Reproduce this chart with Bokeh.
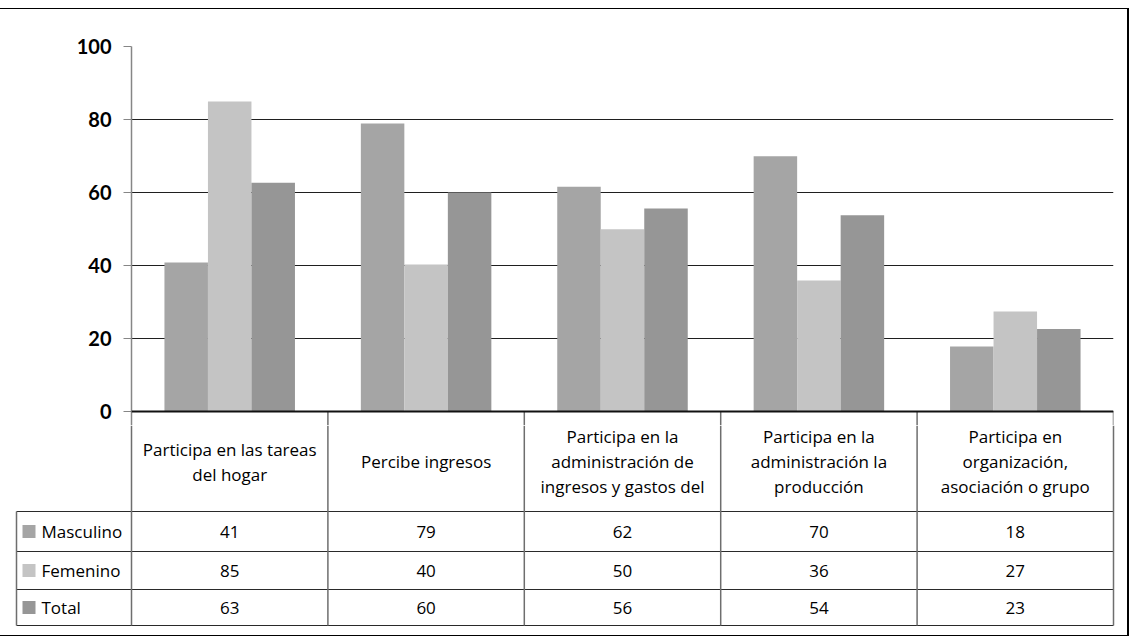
from bokeh.plotting import figure
from bokeh.layouts import column
from bokeh.models import Range1d, FixedTicker, ColumnDataSource, Span
from bokeh.core.properties import value
from bokeh.embed import file_html
from bokeh.resources import INLINE

# ---------------- data ----------------
categories = [
    "Participa en las tareas del hogar",
    "Percibe ingresos",
    "Participa en la administración de ingresos y gastos del hogar",
    "Participa en la administración la producción",
    "Participa en organización, asociación o grupo",
]
header_lines = [
    ["Participa en las tareas", "del hogar"],
    ["Percibe ingresos"],
    ["Participa en la", "administración de", "ingresos y gastos del"],
    ["Participa en la", "administración la", "producción"],
    ["Participa en", "organización,", "asociación o grupo"],
]
series = ["Masculino", "Femenino", "Total"]
masculino = [40.8, 78.9, 61.6, 69.9, 17.8]
femenino = [84.9, 40.3, 49.9, 35.9, 27.4]
total = [62.7, 60.0, 55.6, 53.8, 22.6]
y_ticks = [0, 20, 40, 60, 80, 100]

# ---------------- style ----------------
colors = ["#a5a5a5", "#c4c4c4", "#969696"]
FONT = "Open Sans"
TICK_FONT = "Lato"
TXT_SIZE = "17px"
W = 1127
TOP_H = 416
BOT_H = 210
LEFT = 131
RIGHT = 14
TOP_M = 37
N = len(categories)
CAT_PX = (W - LEFT - RIGHT) / N
PX_PER_UNIT = 3.65
Y_MIN = -(TOP_H - TOP_M) / PX_PER_UNIT + 100
BAR_W = 0.2215

values = [masculino, femenino, total]

# ---------------- chart ----------------
p = figure(width=W, height=TOP_H, x_range=Range1d(0, N), y_range=Range1d(Y_MIN, 100),
           x_axis_type=None, toolbar_location=None, output_backend="svg",
           min_border_left=LEFT, min_border_right=RIGHT, min_border_top=TOP_M,
           min_border_bottom=0)
p.frame_align = False
p.outline_line_color = None
p.background_fill_color = "white"
p.border_fill_color = "white"

ticker = FixedTicker(ticks=y_ticks)
p.yaxis.ticker = ticker
p.ygrid.ticker = ticker
p.ygrid.grid_line_color = "#1f1f1f"
p.ygrid.grid_line_width = 1
p.yaxis.axis_line_color = "#868686"
p.yaxis.axis_line_width = 1.5
p.yaxis.major_tick_line_color = "#868686"
p.yaxis.major_tick_out = 8
p.yaxis.major_tick_in = 0
p.yaxis.minor_tick_line_color = None
p.yaxis.major_label_standoff = 12
p.yaxis.major_label_text_font = TICK_FONT
p.yaxis.major_label_text_font_style = "bold"
p.yaxis.major_label_text_font_size = "20px"
p.yaxis.major_label_text_color = "#000000"

for i, (name, vals, col) in enumerate(zip(series, values, colors)):
    off = (i - 1) * BAR_W
    src = ColumnDataSource(dict(x=[k + 0.5 + off for k in range(N)], top=vals))
    p.vbar(x="x", top="top", width=BAR_W, bottom=0, source=src,
           fill_color=col, line_color=None)

# baseline (category axis / table top edge)
p.add_layout(Span(location=0, dimension="width", line_color="#111111", line_width=2))

# continuation of table column lines below the zero line
p.segment(x0=list(range(1, N + 1)), y0=[0] * N, x1=list(range(1, N + 1)), y1=[Y_MIN] * N,
          line_color="#6e6e6e", line_width=1.5)

# ---------------- table ----------------
def px2x(page_x):
    return (page_x - LEFT) / CAT_PX

t = figure(width=W, height=BOT_H,
           x_range=Range1d(px2x(0), px2x(W)), y_range=Range1d(BOT_H, 0),
           x_axis_type=None, y_axis_type=None, toolbar_location=None,
           output_backend="svg", min_border=0,
           min_border_left=0, min_border_right=0, min_border_top=0, min_border_bottom=0)
t.frame_align = False
t.outline_line_color = None
t.background_fill_color = "white"
t.border_fill_color = "white"

row_bounds = [86, 126, 164, 200]   # pixel offsets below the chart panel
left_edge = px2x(16)

t.segment(x0=[left_edge] * len(row_bounds), y0=row_bounds,
          x1=[N] * len(row_bounds), y1=row_bounds,
          line_color="#2a2a2a", line_width=1.2)
t.segment(x0=list(range(N + 1)), y0=[0] * (N + 1), x1=list(range(N + 1)),
          y1=[row_bounds[-1]] * (N + 1), line_color="#6e6e6e", line_width=1.5)
t.segment(x0=[left_edge], y0=[row_bounds[0]], x1=[left_edge], y1=[row_bounds[-1]],
          line_color="#6e6e6e", line_width=1.5)

hx, hy, ht = [], [], []
head_c = 36
for k, lines in enumerate(header_lines):
    n = len(lines)
    for j, ln in enumerate(lines):
        hx.append(k + 0.5)
        hy.append(head_c + (j - (n - 1) / 2) * 25)
        ht.append(ln)
t.text(x=hx, y=hy, text=ht, text_align="center", text_baseline="middle",
       text_font=value(FONT), text_font_size=TXT_SIZE, text_color="#000000")

vx, vy, vt = [], [], []
row_centers = [(row_bounds[r] + row_bounds[r + 1]) / 2 for r in range(3)]
for r, vals in enumerate(values):
    for k, v in enumerate(vals):
        vx.append(k + 0.5)
        vy.append(row_centers[r])
        vt.append(f"{v:.0f}")
t.text(x=vx, y=vy, text=vt, text_align="center", text_baseline="middle",
       text_font=value(FONT), text_font_size=TXT_SIZE, text_color="#000000")

t.rect(x=[px2x(28.5)] * 3, y=row_centers, width=13, height=13,
       width_units="screen", height_units="screen", fill_color=colors, line_color=None)
t.text(x=[px2x(41)] * 3, y=row_centers, text=series, text_align="left",
       text_baseline="middle", text_font=value(FONT), text_font_size=TXT_SIZE,
       text_color="#000000")

layout = column(p, t, spacing=0, margin=(8, 0, 0, 0),
                styles={"border-top": "1px solid #000", "border-right": "2px solid #000",
                        "border-bottom": "1px solid #000"})

open("out.html", "w").write(file_html(layout, INLINE))
